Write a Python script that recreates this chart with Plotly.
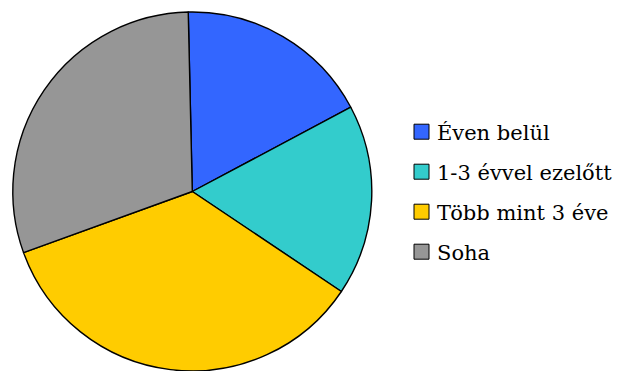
import plotly.graph_objects as go

# Survey answers and their shares (percent)
labels = ["Éven belül", "1-3 évvel ezelőtt", "Több mint 3 éve", "Soha"]
values = [17.6, 17.2, 35.1, 30.2]
colors = ["#3366FF", "#33CCCC", "#FFCC00", "#969696"]

W, H = 617, 371

fig = go.Figure(
    go.Pie(
        labels=labels,
        values=values,
        sort=False,
        direction="clockwise",
        rotation=-1.3,
        marker=dict(colors=colors, line=dict(color="black", width=1.4)),
        textinfo="none",
        hoverinfo="label+percent",
        showlegend=False,
        domain=dict(x=[(192.3 - 179.5) / W, (192.3 + 179.5) / W], y=[0, 359 / H]),
    )
)

# Legend drawn as swatches plus labels to the right of the pie
row_top, row_gap, sw = 131.7, 40.0, 15.0
for i, (lab, col) in enumerate(zip(labels, colors)):
    cy = row_top + i * row_gap
    fig.add_shape(
        type="rect",
        xref="paper", yref="paper",
        x0=414 / W, x1=(414 + sw) / W,
        y0=(H - (cy + sw / 2)) / H, y1=(H - (cy - sw / 2)) / H,
        fillcolor=col,
        line=dict(color="black", width=1),
    )
    fig.add_annotation(
        xref="paper", yref="paper",
        x=435 / W, y=(H - cy - 1) / H,
        xanchor="left", yanchor="middle",
        text=lab, showarrow=False,
        font=dict(family="DejaVu Serif", size=21, color="black"),
    )

fig.update_layout(
    width=W, height=H,
    margin=dict(l=0, r=0, t=0, b=0),
    paper_bgcolor="white",
    plot_bgcolor="white",
)

fig.write_html("out.html")
